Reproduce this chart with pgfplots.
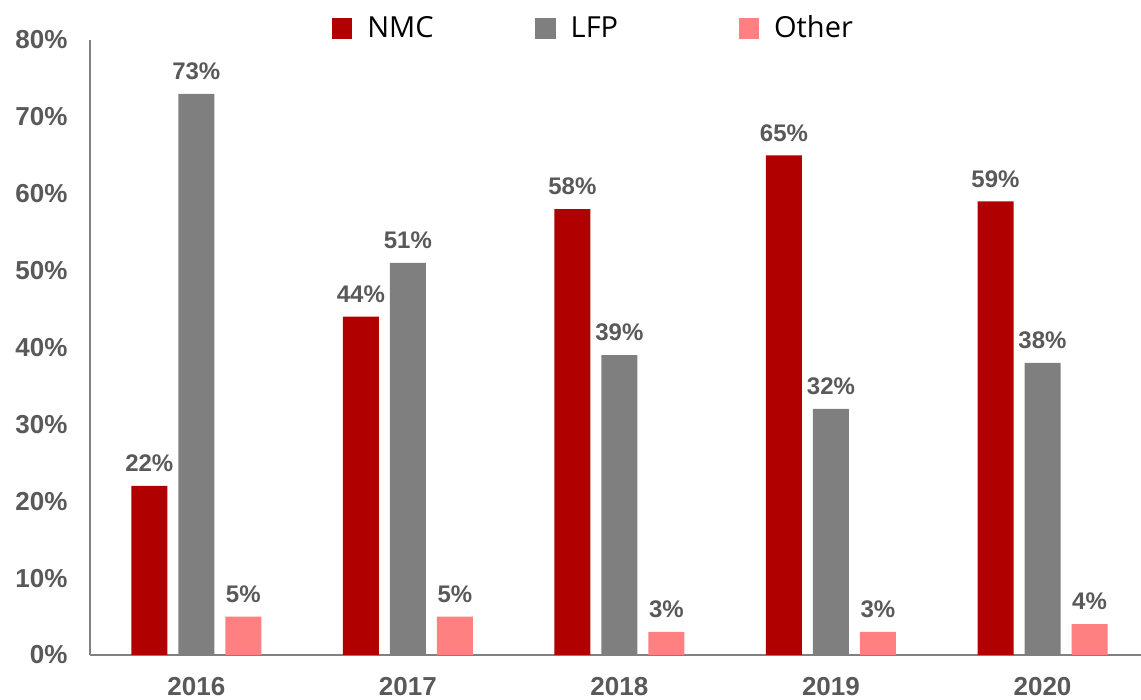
\documentclass[border=0pt]{standalone}
\usepackage{fontspec}
\setmainfont{Liberation Sans}
\newfontfamily\legendfont{Open Sans}
\usepackage{pgfplots}
\pgfplotsset{compat=1.18}
\definecolor{nmc}{HTML}{B00000}
\definecolor{lfp}{HTML}{7F7F7F}
\definecolor{oth}{HTML}{FF8080}
\definecolor{txt}{HTML}{595959}
\definecolor{axl}{HTML}{808080}
\newcommand{\lgent}[1]{\makebox[83.9pt][l]{#1}}
\begin{document}
\begin{tikzpicture}
\path[use as bounding box] (-45pt,-22.5pt) rectangle (525.5pt,327.5pt);
\begin{axis}[
  at={(0pt,0pt)}, anchor=south west,
  scale only axis, width=525.5pt, height=307.5pt,
  xmin=-0.5025, xmax=4.4656, ymin=0, ymax=80,
  ybar=5.5pt, bar width=18pt,
  axis x line=bottom, axis y line=left,
  axis line style={draw=axl, line width=1pt, -},
  xtick={0,1,2,3,4}, xticklabels={2016,2017,2018,2019,2020},
  ytick={0,10,20,30,40,50,60,70,80},
  yticklabels={0\%,10\%,20\%,30\%,40\%,50\%,60\%,70\%,80\%},
  major tick length=0pt,
  tick label style={font=\fontsize{13}{13}\selectfont\bfseries, text=txt},
  xticklabel style={yshift=-7.5pt},
  yticklabel style={xshift=-7.7pt},
  clip=false,
  nodes near coords={\pgfmathprintnumber[assume math mode=true]{\pgfplotspointmeta}\%},
  every node near coord/.append style={font=\fontsize{12}{12}\selectfont\bfseries, text=txt, anchor=south, yshift=3.5pt},
  legend image code/.code={\fill[#1] (0pt,-5.15pt) rectangle (10.3pt,5.15pt);},
  legend style={at={(0.23,1.0190)}, anchor=west, draw=none, fill=none,
    inner sep=0pt, outer sep=0pt,
    nodes={inner sep=0pt, outer sep=0pt},
    legend columns=3, font=\legendfont\fontsize{14.5}{14.5}\selectfont,
    /tikz/every odd column/.append style={column sep=7.5pt},
    /tikz/every even column/.append style={column sep=0pt}},
  legend cell align=left,
]
\addplot[fill=nmc, draw=none] coordinates {(0,22) (1,44) (2,58) (3,65) (4,59)};
\addplot[fill=lfp, draw=none] coordinates {(0,73) (1,51) (2,39) (3,32) (4,38)};
\addplot[fill=oth, draw=none] coordinates {(0,5) (1,5) (2,3) (3,3) (4,4)};
\legend{\lgent{NMC},\lgent{LFP},\lgent{Other}}
\end{axis}
\end{tikzpicture}
\end{document}
